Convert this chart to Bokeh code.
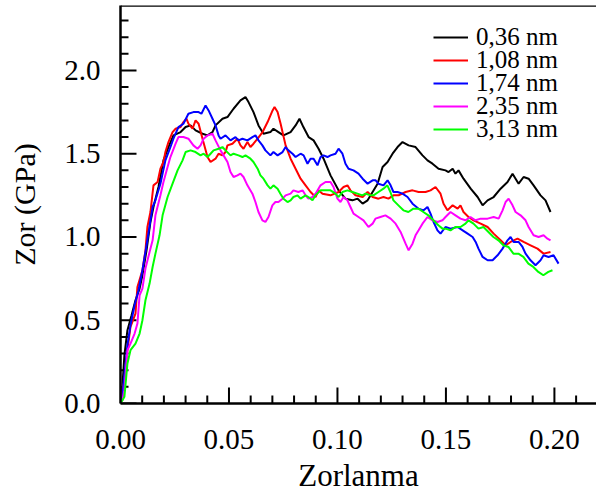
import math
from bokeh.plotting import figure
from bokeh.models import Range1d, SingleIntervalTicker, PrintfTickFormatter, Legend, LegendItem, Span
from bokeh.embed import file_html
from bokeh.resources import INLINE

labels = ["0,36 nm", "1,08 nm", "1,74 nm", "2,35 nm", "3,13 nm"]
colors = ["#000000", "#ff0000", "#0000ff", "#ff00ff", "#00ff00"]

x_major = [0.00, 0.05, 0.10, 0.15, 0.20]
x_minor = [0.01, 0.02, 0.03, 0.04, 0.06, 0.07, 0.08, 0.09, 0.11, 0.12, 0.13, 0.14,
           0.16, 0.17, 0.18, 0.19, 0.21]
y_major = [0.0, 0.5, 1.0, 1.5, 2.0]
y_minor = [0.1, 0.2, 0.3, 0.4, 0.6, 0.7, 0.8, 0.9, 1.1, 1.2, 1.3, 1.4, 1.6, 1.7, 1.8, 1.9,
           2.1, 2.2, 2.3]

curve_036 = [(0.0000,0.00),(0.0009,0.11),(0.0018,0.29),(0.0032,0.44),(0.0051,0.53),(0.0069,0.62),(0.0088,0.69),(0.0101,0.77),(0.0120,0.92),(0.0138,1.09),(0.0152,1.18),(0.0175,1.30),(0.0198,1.46),(0.0221,1.54),(0.0244,1.61),(0.0277,1.63),(0.0300,1.66),(0.0323,1.67),(0.0346,1.64),(0.0378,1.62),(0.0401,1.61),(0.0424,1.63),(0.0438,1.67),(0.0470,1.71),(0.0493,1.72),(0.0521,1.77),(0.0553,1.82),(0.0576,1.84),(0.0590,1.81),(0.0613,1.75),(0.0636,1.67),(0.0659,1.62),(0.0691,1.63),(0.0705,1.65),(0.0728,1.63),(0.0751,1.61),(0.0784,1.63),(0.0807,1.67),(0.0825,1.71),(0.0843,1.66),(0.0867,1.60),(0.0890,1.58),(0.0913,1.53),(0.0936,1.47),(0.0968,1.37),(0.1005,1.28),(0.1037,1.23),(0.1069,1.22),(0.1093,1.23),(0.1116,1.20),(0.1139,1.22),(0.1162,1.27),(0.1185,1.32),(0.1208,1.42),(0.1231,1.45),(0.1254,1.50),(0.1277,1.54),(0.1300,1.57),(0.1328,1.55),(0.1360,1.54),(0.1392,1.49),(0.1415,1.46),(0.1438,1.44),(0.1466,1.41),(0.1498,1.40),(0.1512,1.39),(0.1531,1.41),(0.1544,1.38),(0.1558,1.40),(0.1581,1.35),(0.1614,1.29),(0.1646,1.24),(0.1669,1.19),(0.1692,1.22),(0.1720,1.24),(0.1752,1.29),(0.1784,1.33),(0.1807,1.38),(0.1821,1.35),(0.1835,1.32),(0.1858,1.36),(0.1881,1.35),(0.1904,1.31),(0.1936,1.25),(0.1959,1.22),(0.1982,1.15)]

curve_108 = [(0.0000,0.00),(0.0009,0.08),(0.0018,0.14),(0.0032,0.32),(0.0046,0.46),(0.0069,0.54),(0.0078,0.70),(0.0101,0.80),(0.0115,0.92),(0.0124,1.06),(0.0138,1.15),(0.0152,1.31),(0.0171,1.33),(0.0184,1.41),(0.0198,1.45),(0.0207,1.51),(0.0221,1.57),(0.0240,1.63),(0.0254,1.65),(0.0277,1.66),(0.0290,1.69),(0.0304,1.71),(0.0313,1.68),(0.0332,1.65),(0.0346,1.70),(0.0360,1.68),(0.0378,1.59),(0.0401,1.48),(0.0415,1.45),(0.0438,1.47),(0.0452,1.50),(0.0470,1.49),(0.0484,1.51),(0.0493,1.55),(0.0516,1.56),(0.0539,1.59),(0.0553,1.55),(0.0567,1.53),(0.0585,1.57),(0.0599,1.54),(0.0613,1.56),(0.0632,1.59),(0.0655,1.63),(0.0678,1.69),(0.0701,1.76),(0.0710,1.78),(0.0724,1.75),(0.0738,1.68),(0.0761,1.55),(0.0784,1.47),(0.0807,1.41),(0.0830,1.35),(0.0853,1.31),(0.0876,1.27),(0.0899,1.24),(0.0913,1.28),(0.0931,1.26),(0.0968,1.25),(0.1005,1.27),(0.1028,1.30),(0.1046,1.31),(0.1060,1.28),(0.1083,1.25),(0.1116,1.24),(0.1139,1.27),(0.1162,1.24),(0.1189,1.23),(0.1212,1.24),(0.1235,1.23),(0.1258,1.25),(0.1282,1.25),(0.1314,1.27),(0.1346,1.28),(0.1374,1.27),(0.1406,1.27),(0.1429,1.28),(0.1452,1.30),(0.1475,1.26),(0.1489,1.20),(0.1507,1.16),(0.1531,1.19),(0.1554,1.17),(0.1567,1.19),(0.1581,1.15),(0.1604,1.12),(0.1627,1.10),(0.1660,1.08),(0.1692,1.06),(0.1720,1.02),(0.1752,0.98),(0.1775,0.95),(0.1798,0.97),(0.1830,0.99),(0.1858,0.97),(0.1890,0.95),(0.1922,0.93),(0.1950,0.90),(0.1982,0.91)]

curve_174 = [(0.0000,0.00),(0.0009,0.05),(0.0018,0.17),(0.0032,0.35),(0.0046,0.47),(0.0065,0.59),(0.0083,0.68),(0.0101,0.80),(0.0120,0.95),(0.0138,1.10),(0.0148,1.18),(0.0161,1.22),(0.0184,1.32),(0.0207,1.46),(0.0230,1.54),(0.0244,1.59),(0.0267,1.66),(0.0290,1.68),(0.0313,1.74),(0.0336,1.75),(0.0360,1.75),(0.0373,1.74),(0.0392,1.79),(0.0406,1.76),(0.0424,1.71),(0.0438,1.67),(0.0452,1.61),(0.0461,1.59),(0.0484,1.61),(0.0507,1.58),(0.0530,1.60),(0.0544,1.58),(0.0562,1.59),(0.0585,1.58),(0.0608,1.60),(0.0622,1.61),(0.0636,1.58),(0.0654,1.55),(0.0668,1.52),(0.0691,1.49),(0.0705,1.51),(0.0724,1.49),(0.0747,1.51),(0.0761,1.54),(0.0774,1.52),(0.0793,1.50),(0.0807,1.48),(0.0830,1.50),(0.0844,1.49),(0.0862,1.44),(0.0876,1.47),(0.0890,1.47),(0.0908,1.43),(0.0922,1.48),(0.0936,1.49),(0.0954,1.48),(0.0968,1.49),(0.0991,1.50),(0.1005,1.53),(0.1023,1.50),(0.1037,1.44),(0.1051,1.41),(0.1074,1.40),(0.1097,1.38),(0.1116,1.35),(0.1139,1.32),(0.1162,1.34),(0.1176,1.34),(0.1189,1.32),(0.1212,1.31),(0.1231,1.34),(0.1245,1.31),(0.1258,1.27),(0.1277,1.27),(0.1300,1.26),(0.1323,1.24),(0.1346,1.20),(0.1374,1.17),(0.1397,1.16),(0.1415,1.18),(0.1429,1.14),(0.1443,1.09),(0.1461,1.04),(0.1475,1.02),(0.1498,1.06),(0.1521,1.05),(0.1554,1.06),(0.1577,1.04),(0.1600,1.02),(0.1623,1.00),(0.1637,0.97),(0.1650,0.93),(0.1669,0.88),(0.1692,0.86),(0.1715,0.86),(0.1738,0.89),(0.1761,0.93),(0.1784,0.98),(0.1798,1.00),(0.1812,0.97),(0.1835,0.97),(0.1853,0.94),(0.1867,0.90),(0.1890,0.86),(0.1913,0.83),(0.1936,0.86),(0.1950,0.89),(0.1973,0.88),(0.1996,0.89),(0.2019,0.84)]

curve_235 = [(0.0000,0.00),(0.0009,0.02),(0.0018,0.08),(0.0032,0.32),(0.0046,0.36),(0.0065,0.42),(0.0078,0.48),(0.0088,0.65),(0.0101,0.69),(0.0115,0.81),(0.0134,0.91),(0.0148,0.98),(0.0161,1.13),(0.0184,1.25),(0.0198,1.33),(0.0217,1.42),(0.0230,1.48),(0.0254,1.56),(0.0267,1.60),(0.0290,1.60),(0.0313,1.59),(0.0336,1.55),(0.0355,1.53),(0.0369,1.55),(0.0383,1.59),(0.0401,1.61),(0.0424,1.62),(0.0438,1.58),(0.0461,1.52),(0.0475,1.49),(0.0493,1.45),(0.0507,1.39),(0.0521,1.36),(0.0539,1.37),(0.0553,1.38),(0.0567,1.36),(0.0585,1.31),(0.0608,1.26),(0.0622,1.21),(0.0636,1.15),(0.0654,1.10),(0.0668,1.09),(0.0682,1.12),(0.0700,1.19),(0.0714,1.21),(0.0728,1.21),(0.0747,1.23),(0.0761,1.25),(0.0784,1.26),(0.0797,1.28),(0.0820,1.27),(0.0839,1.28),(0.0853,1.25),(0.0866,1.23),(0.0885,1.24),(0.0899,1.26),(0.0922,1.31),(0.0945,1.33),(0.0968,1.33),(0.0982,1.30),(0.1000,1.23),(0.1014,1.21),(0.1028,1.24),(0.1046,1.22),(0.1060,1.18),(0.1074,1.14),(0.1097,1.12),(0.1120,1.10),(0.1143,1.06),(0.1162,1.08),(0.1175,1.11),(0.1198,1.12),(0.1221,1.13),(0.1245,1.11),(0.1268,1.08),(0.1291,1.03),(0.1314,0.96),(0.1328,0.92),(0.1346,0.96),(0.1360,1.01),(0.1374,1.04),(0.1392,1.08),(0.1415,1.12),(0.1438,1.10),(0.1461,1.09),(0.1484,1.10),(0.1498,1.12),(0.1521,1.15),(0.1544,1.13),(0.1567,1.11),(0.1590,1.10),(0.1613,1.12),(0.1636,1.10),(0.1660,1.11),(0.1692,1.11),(0.1720,1.12),(0.1743,1.11),(0.1761,1.16),(0.1775,1.21),(0.1789,1.23),(0.1807,1.19),(0.1821,1.15),(0.1844,1.13),(0.1867,1.10),(0.1881,1.06),(0.1904,1.01),(0.1927,1.00),(0.1950,1.01),(0.1968,0.99),(0.1982,0.98)]

curve_313 = [(0.0000,0.00),(0.0009,0.02),(0.0018,0.04),(0.0032,0.24),(0.0046,0.32),(0.0069,0.36),(0.0088,0.42),(0.0101,0.50),(0.0115,0.62),(0.0134,0.72),(0.0148,0.82),(0.0161,0.90),(0.0180,1.01),(0.0194,1.13),(0.0217,1.24),(0.0240,1.32),(0.0263,1.40),(0.0286,1.46),(0.0300,1.51),(0.0323,1.52),(0.0346,1.51),(0.0369,1.49),(0.0383,1.50),(0.0401,1.48),(0.0415,1.50),(0.0429,1.52),(0.0452,1.53),(0.0470,1.54),(0.0484,1.52),(0.0507,1.49),(0.0521,1.50),(0.0544,1.49),(0.0562,1.48),(0.0576,1.49),(0.0599,1.47),(0.0613,1.45),(0.0632,1.41),(0.0645,1.37),(0.0659,1.35),(0.0678,1.31),(0.0691,1.29),(0.0705,1.31),(0.0724,1.29),(0.0737,1.26),(0.0751,1.23),(0.0770,1.21),(0.0784,1.22),(0.0797,1.24),(0.0816,1.25),(0.0830,1.23),(0.0853,1.25),(0.0866,1.24),(0.0885,1.22),(0.0899,1.25),(0.0922,1.28),(0.0945,1.28),(0.0968,1.28),(0.0991,1.26),(0.1005,1.24),(0.1023,1.27),(0.1046,1.28),(0.1069,1.27),(0.1092,1.26),(0.1115,1.25),(0.1129,1.26),(0.1152,1.25),(0.1166,1.25),(0.1189,1.27),(0.1212,1.29),(0.1230,1.31),(0.1244,1.27),(0.1258,1.22),(0.1281,1.19),(0.1304,1.16),(0.1327,1.15),(0.1350,1.17),(0.1373,1.17),(0.1396,1.15),(0.1419,1.13),(0.1442,1.10),(0.1465,1.07),(0.1484,1.05),(0.1498,1.05),(0.1521,1.04),(0.1544,1.06),(0.1567,1.06),(0.1590,1.08),(0.1604,1.10),(0.1627,1.08),(0.1650,1.05),(0.1673,1.06),(0.1696,1.03),(0.1719,1.00),(0.1742,0.98),(0.1765,0.95),(0.1788,0.94),(0.1811,0.90),(0.1834,0.90),(0.1857,0.88),(0.1880,0.84),(0.1903,0.82),(0.1926,0.79),(0.1949,0.77),(0.1972,0.79),(0.1991,0.80)]

curves = [curve_036, curve_108, curve_174, curve_235, curve_313]

FONT = "Liberation Serif"
Y_END = 2.39

p = figure(width=596, height=495, output_backend="svg", toolbar_location=None,
           x_range=Range1d(0, 0.2194), y_range=Range1d(0, Y_END),
           min_border_left=120, min_border_right=0, min_border_top=5, min_border_bottom=92)
p.grid.visible = False
p.outline_line_color = None
p.background_fill_color = "white"
p.border_fill_color = "white"

for ax, iv, fmt in ((p.xaxis[0], 0.05, "%.2f"), (p.yaxis[0], 0.5, "%.1f")):
    ax.ticker = SingleIntervalTicker(interval=iv, num_minor_ticks=5)
    ax.formatter = PrintfTickFormatter(format=fmt)
    ax.major_tick_in = 0
    ax.major_tick_out = 0
    ax.minor_tick_in = 0
    ax.minor_tick_out = 0
    ax.major_tick_line_color = None
    ax.minor_tick_line_color = None
    ax.axis_line_width = 2.5
    ax.axis_line_color = "black"
    ax.major_label_text_font = FONT
    ax.major_label_text_font_size = "29px"
    ax.major_label_text_color = "black"
    ax.axis_label_text_font = FONT
    ax.axis_label_text_font_style = "normal"
    ax.axis_label_text_color = "black"

p.xaxis.axis_label = "Zorlanma"
p.xaxis.axis_label_text_font_size = "31px"
p.xaxis.major_label_standoff = 26
p.xaxis.axis_label_standoff = 6
p.yaxis.axis_label = "Zor (GPa)"
p.yaxis.axis_label_text_font_size = "30px"
p.yaxis.major_label_standoff = 20
p.yaxis.axis_label_standoff = 20

p.add_layout(Span(location=Y_END, dimension="width", line_color="black", line_width=2.5))

# inward ticks (half of each dash is clipped by the frame edge)
tick_style = dict(marker="dash", line_color="black", line_width=2)
p.scatter(x_major, [0] * len(x_major), size=32, angle=math.pi / 2, **tick_style)
p.scatter(x_minor, [0] * len(x_minor), size=16, angle=math.pi / 2, **tick_style)
p.scatter([0] * len(y_major), y_major, size=32, **tick_style)
p.scatter([0] * len(y_minor), y_minor, size=16, **tick_style)

renderers = []
for data, col in zip(curves, colors):
    xs = [d[0] for d in data]
    ys = [d[1] for d in data]
    renderers.append(p.line(xs, ys, line_color=col, line_width=2))

# one legend per entry so that the entries can sit closer than the text height
for i, (lab, r) in enumerate(zip(labels, renderers)):
    leg = Legend(items=[LegendItem(label=lab, renderers=[r])],
                 location=(313, 352 - 23 * i), padding=0, margin=0,
                 glyph_width=35, glyph_height=20, label_height=20, label_standoff=8,
                 border_line_color=None, background_fill_alpha=0,
                 label_text_font=FONT, label_text_font_size="25px", label_text_color="black")
    p.add_layout(leg)

open("out.html", "w").write(file_html(p, INLINE))
